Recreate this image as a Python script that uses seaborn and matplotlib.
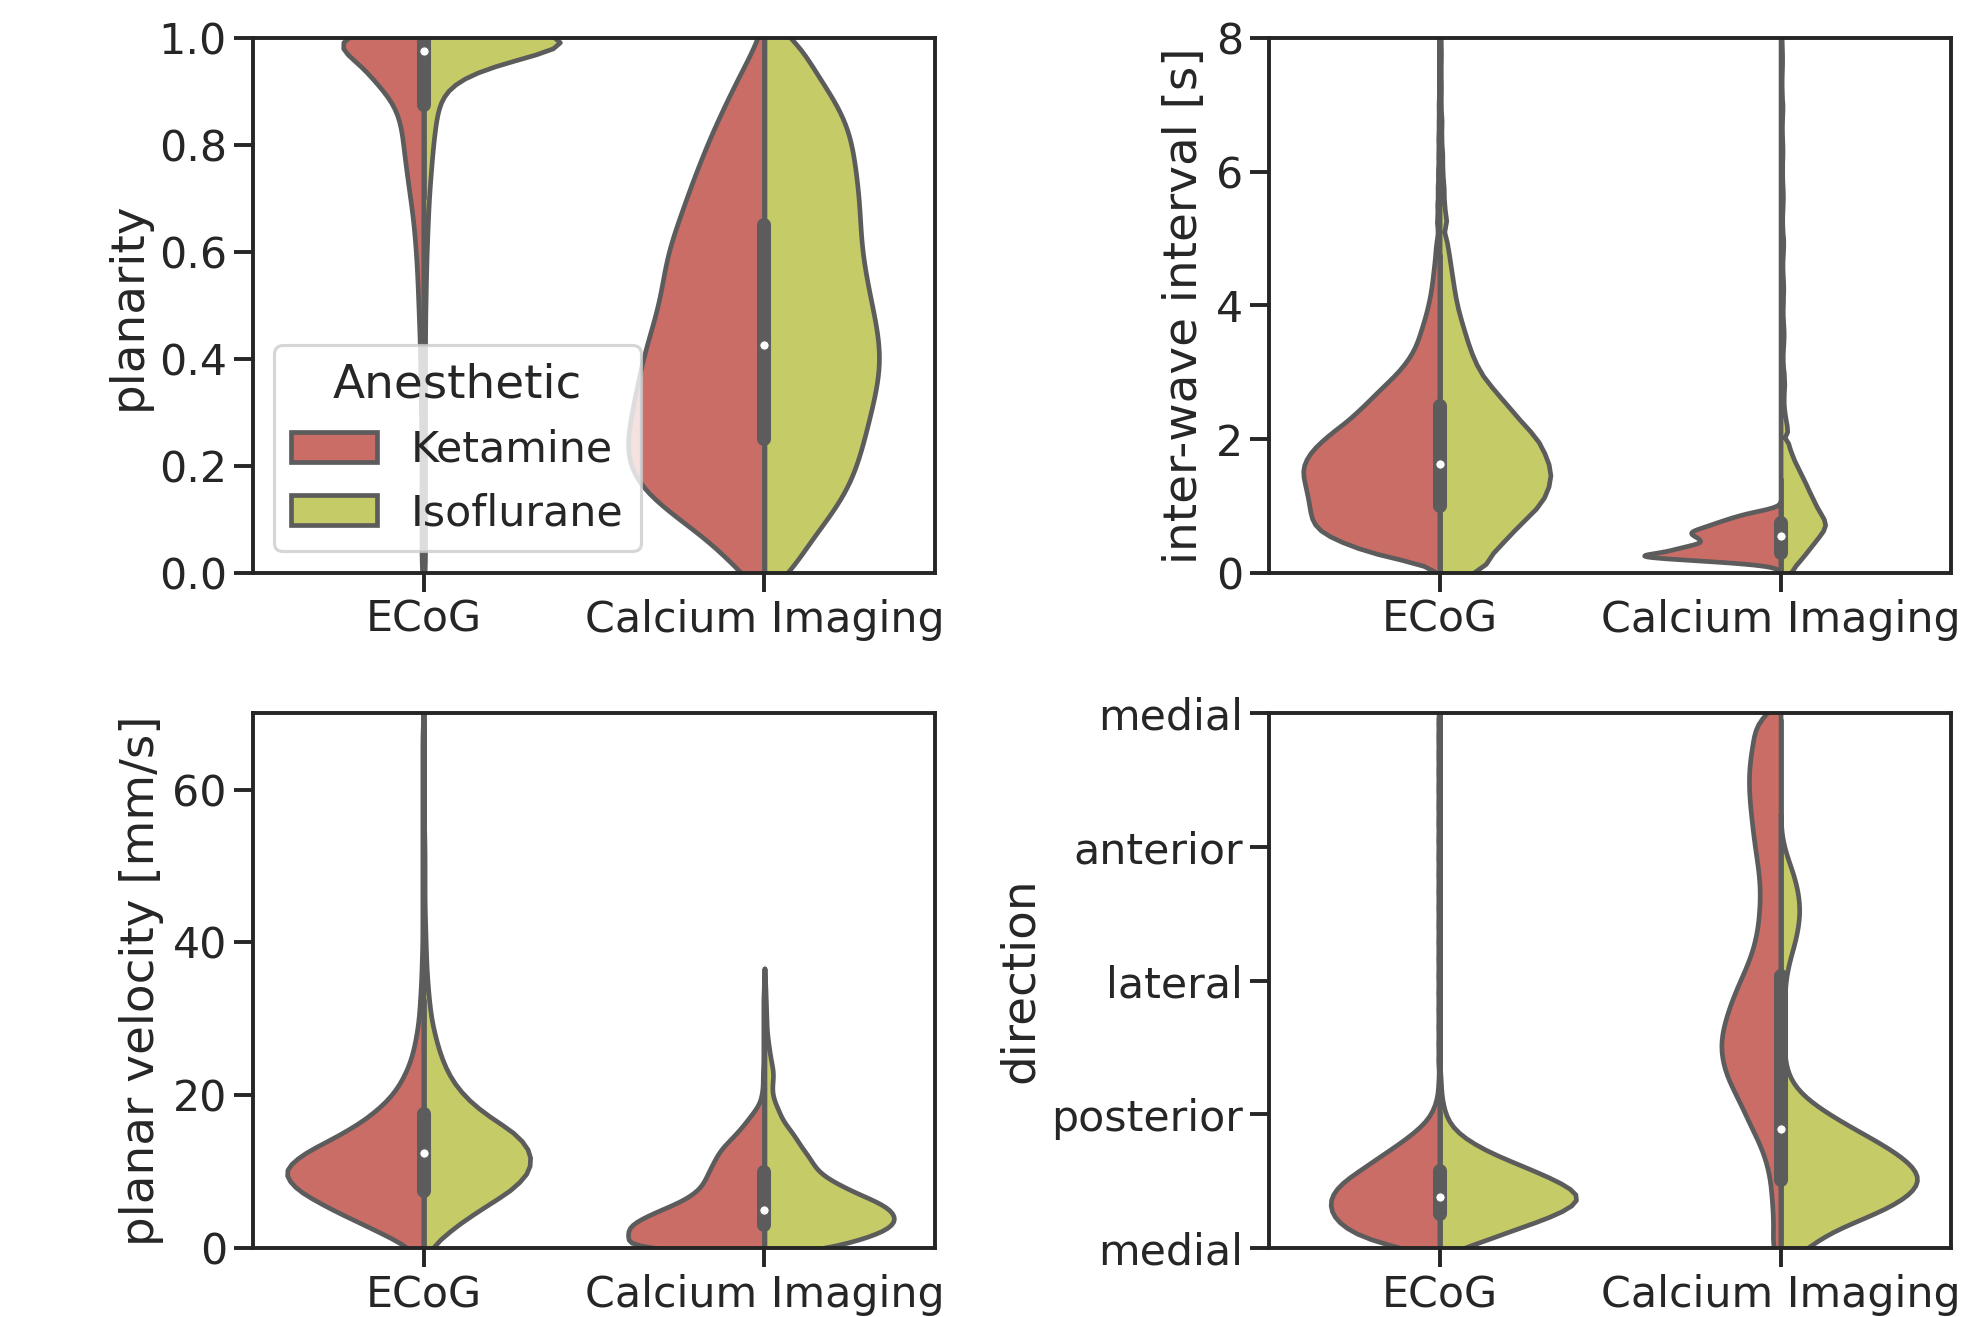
import numpy as np
import pandas as pd
import seaborn as sns
import matplotlib.pyplot as plt

sns.set_theme(style="ticks", context="talk")
plt.rcParams.update({
    "xtick.labelsize": 20.5,
    "ytick.labelsize": 20.5,
    "axes.labelsize": 22.5,
    "legend.fontsize": 20.5,
    "legend.title_fontsize": 22.5,
})

recordings = ["ECoG", "Calcium Imaging"]
anesthetics = ["Ketamine", "Isoflurane"]
palette = sns.color_palette("hls", 6)[:2]
gray = "#5c5c5c"

# binned data: *_grid = bin values, the count lists = number of waves per bin

# planarity
planarity_grid = [0.0, 0.025, 0.05, 0.075, 0.1, 0.125, 0.15, 0.175, 0.2, 0.225,
                  0.25, 0.275, 0.3, 0.325, 0.35, 0.375, 0.4, 0.425, 0.45, 0.475,
                  0.5, 0.525, 0.55, 0.575, 0.6, 0.625, 0.65, 0.675, 0.7, 0.725,
                  0.75, 0.775, 0.8, 0.825, 0.85, 0.875, 0.9, 0.925, 0.95, 0.975, 1.0]
planarity_ecog_ket = [4, 4, 4, 4, 4, 4, 4, 4, 4, 4,
                      4, 5, 5, 5, 6, 6, 7, 7, 8, 9,
                      10, 11, 12, 13, 15, 17, 19, 22, 26, 30,
                      33, 37, 40, 42, 46, 55, 72, 105, 130, 100, 342]
planarity_ecog_iso = [9, 9, 9, 9, 9, 9, 9, 9, 9, 9,
                      9, 9, 9, 9, 9, 9, 9, 9, 9, 9,
                      12, 12, 15, 15, 18, 21, 24, 27, 30, 36,
                      42, 48, 54, 63, 72, 84, 105, 150, 390, 450, 1850]
planarity_ca_ket = [83, 93, 132, 180, 233, 285, 327, 357, 372, 378,
                    375, 369, 362, 354, 347, 339, 332, 321, 311, 299,
                    288, 282, 276, 270, 264, 251, 239, 225, 213, 200,
                    186, 171, 158, 141, 125, 108, 90, 72, 54, 33, 15]
planarity_ca_iso = [60, 58, 74, 94, 112, 130, 145, 156, 165, 172,
                    178, 184, 190, 196, 201, 205, 207, 205, 202, 197,
                    192, 187, 182, 178, 174, 172, 171, 170, 169, 166,
                    163, 160, 157, 151, 143, 130, 115, 98, 82, 68, 70]

# inter-wave interval [s]
iwi_ecog_grid = [0, 0.125, 0.25, 0.375, 0.5, 0.625, 0.75, 0.875, 1.0, 1.125,
                 1.25, 1.375, 1.5, 1.625, 1.75, 1.875, 2.0, 2.125, 2.25, 2.375,
                 2.5, 2.625, 2.75, 2.875, 3.0, 3.125, 3.25, 3.375, 3.5, 3.625,
                 3.75, 3.875, 4.0, 4.125, 4.25, 4.375, 4.5, 4.625, 4.75, 4.875,
                 5.0, 5.25, 5.5, 5.75, 6.0, 6.25, 6.5, 6.75, 7.0, 7.25,
                 7.5, 7.75, 8.0, 8.25, 8.5]
iwi_ecog_ket = [0, 30, 190, 260, 330, 376, 396, 402, 406, 410,
                416, 422, 428, 424, 410, 390, 360, 330, 292, 264,
                236, 210, 184, 156, 130, 108, 90, 76, 66, 58,
                50, 42, 36, 30, 26, 22, 20, 16, 14, 12,
                10, 16, 14, 12, 10, 8, 8, 6, 6, 4,
                4, 4, 4, 4, 4]
iwi_ecog_iso_grid = iwi_ecog_grid + [9, 10, 11, 12, 14, 16]
iwi_ecog_iso = [81, 68, 80, 92, 105, 117, 130, 144, 158, 166,
                172, 175, 177, 173, 168, 162, 155, 143, 130, 119,
                108, 96, 85, 74, 64, 58, 52, 47, 43, 39,
                35, 31, 28, 25, 23, 21, 19, 17, 15, 13,
                12, 20, 16, 12, 10, 8, 6, 6, 4, 4,
                4, 4, 4, 2, 2, 120, 100, 80, 60, 60, 40]
iwi_ca_ket_grid = [0, 0.05, 0.1, 0.15, 0.2, 0.25, 0.3, 0.35, 0.4, 0.45,
                   0.5, 0.55, 0.6, 0.65, 0.7, 0.75, 0.8, 0.85, 0.9, 0.95, 1.0]
iwi_ca_ket = [0, 9, 45, 210, 480, 750, 570, 516, 450, 375,
              384, 414, 444, 405, 354, 309, 261, 210, 150, 66, 12]
iwi_ca_iso_grid = [0, 0.05, 0.1, 0.15, 0.2, 0.25, 0.3, 0.35, 0.4, 0.45,
                   0.5, 0.55, 0.6, 0.65, 0.7, 0.75, 0.8, 0.85, 0.9, 0.95,
                   1.0, 1.05, 1.1, 1.15, 1.2, 1.25, 1.3, 1.35, 1.4, 1.45,
                   1.5, 1.55, 1.6, 1.65, 1.7, 1.75, 1.8, 1.85, 1.9, 1.95,
                   2.0, 2.1, 2.2, 2.3, 2.4, 2.5, 2.6, 2.7, 2.8, 2.9,
                   3.0, 3.1, 3.2, 3.3, 3.4, 3.5, 3.6, 3.7, 3.8, 3.9,
                   4.0, 4.1, 4.2, 4.3, 4.4, 4.5, 4.6, 4.7, 4.8, 4.9,
                   5.0, 5.1, 5.2, 5.3, 5.4, 5.5, 5.6, 5.7, 5.8, 5.9,
                   6.0, 6.1, 6.2, 6.3, 6.4, 6.5, 6.6, 6.7, 6.8, 6.9,
                   7.0, 7.1, 7.2, 7.3, 7.4, 7.5, 7.6, 7.7, 7.8, 7.9,
                   8.0, 8.1, 8.2, 8.3, 8.4, 8.5]
iwi_ca_iso = [18, 19, 22, 26, 31, 35, 39, 43, 47, 51,
              55, 59, 63, 66, 68, 68, 66, 63, 60, 57,
              54, 52, 49, 47, 44, 42, 40, 37, 35, 32,
              30, 27, 25, 22, 20, 18, 16, 14, 13, 11,
              10, 18, 16, 14, 13, 12, 11, 10, 10, 9,
              9, 8, 8, 8, 8, 8, 8, 8, 8, 8,
              8, 7, 7, 7, 7, 7, 7, 7, 7, 7,
              7, 6, 6, 6, 6, 6, 6, 6, 6, 6,
              6, 5, 5, 5, 5, 5, 5, 5, 5, 5,
              5, 4, 4, 4, 4, 4, 4, 4, 4, 4,
              4, 4, 3, 3, 3, 2]

# planar velocity [mm/s]
vel_ecog_grid = [0, 2.5, 5, 7.5, 10, 12.5, 15, 17.5, 20, 22.5, 25, 27.5, 30, 32.5, 35,
                 37.5, 40, 42.5, 45, 47.5, 50, 52.5, 55, 57.5, 60, 62.5, 65, 67.5, 70]
vel_ecog_ket = [18, 88, 158, 220, 250, 208, 138, 88, 53, 33, 20, 13, 8, 6, 4,
                3, 2, 2, 2, 2, 2, 2, 2, 2, 2, 2, 2, 2, 0]
vel_ecog_iso_grid = vel_ecog_grid + [75, 80, 90, 100]
vel_ecog_iso = [11, 52, 102, 162, 197, 199, 172, 112, 72, 47, 32, 22, 14, 10, 7,
                5, 4, 3, 2, 2, 2, 2, 1, 1, 1, 1, 1, 1, 0, 50, 45, 40, 40]
vel_ca_grid = [0, 1, 2, 3, 4, 5, 6, 7, 8, 9, 10, 11, 12, 13, 14, 15, 16, 17, 18,
               19, 20, 21, 22, 23, 24, 25, 26, 27, 28, 29, 30, 31, 32, 33, 34, 35, 36]
vel_ca_ket = [270, 235, 246, 240, 215, 184, 150, 127, 112, 105, 99, 92, 85, 77, 63, 50, 38, 28, 17,
              8, 5, 3, 3, 3, 2, 2, 2, 2, 2, 2, 2, 2, 2, 2, 1, 1, 0]
vel_ca_iso = [130, 175, 222, 245, 250, 240, 217, 180, 150, 122, 102, 92, 84, 72, 63, 54, 42, 32, 27,
              20, 15, 14, 16, 17, 14, 11, 9, 7, 5, 4, 4, 3, 3, 2, 2, 1, 0]

# direction [rad]: 0 medial, pi/2 posterior, pi lateral, 3pi/2 anterior, 2pi medial
dir_ecog_grid = [0, 0.1, 0.2, 0.3, 0.4, 0.5, 0.6, 0.7, 0.8, 0.9, 1.0, 1.1, 1.2, 1.3, 1.4,
                 1.5, 1.6, 1.7, 1.8, 1.9, 2.0, 2.2, 2.4, 2.6, 2.8, 3.0, 3.2, 3.4, 3.6, 3.8,
                 4.0, 4.2, 4.4, 4.6, 4.8, 5.0, 5.2, 5.4, 5.6, 5.8, 6.0, 6.2]
dir_ecog_ket = [61, 108, 135, 152, 162, 165, 164, 155, 142, 122, 104, 85, 66, 48, 32,
                19, 11, 6, 3, 2, 2, 4, 4, 4, 4, 4, 4, 4, 4, 4,
                4, 4, 4, 4, 4, 4, 4, 4, 4, 4, 4, 4]
dir_ecog_iso = [35, 75, 108, 148, 182, 208, 218, 203, 178, 148, 116, 84, 58, 37, 22,
                13, 8, 5, 3, 2, 2, 1, 1, 1, 1, 1, 1, 1, 1, 1,
                1, 1, 1, 1, 1, 1, 1, 1, 1, 1, 1, 1]
dir_ca_grid = [0, 0.2, 0.4, 0.6, 0.8, 1.0, 1.2, 1.4, 1.6, 1.8, 2.0, 2.2, 2.4, 2.6, 2.8, 3.0,
               3.2, 3.4, 3.6, 3.8, 4.0, 4.2, 4.4, 4.6, 4.8, 5.0, 5.2, 5.4, 5.6, 5.8, 6.0, 6.2]
dir_ca_ket = [15, 11, 12, 14, 16, 22, 31, 45, 57, 70, 84, 92, 95, 90, 82, 72,
              60, 48, 40, 35, 33, 32, 34, 38, 42, 45, 48, 50, 50, 47, 42, 40]
dir_ca_iso = [63, 107, 218, 290, 324, 294, 237, 165, 99, 45, 18, 9, 8, 8, 8, 9,
              12, 21, 33, 41, 44, 39, 29, 14, 3, 0, 0, 0, 0, 0, 0, 0]


def fixed_bw(h):
    # kernel width in data units instead of scott's rule
    return lambda kde: h / kde.dataset.std(ddof=1)


def draw(ax, groups, bws, ylabel, ylim, legend=False):
    for i, (rec, halves) in enumerate(zip(recordings, groups)):
        df = pd.concat([
            pd.DataFrame({"recording": rec, "Anesthetic": name, "value": np.repeat(grid, counts)})
            for name, (grid, counts) in zip(anesthetics, halves)
        ], ignore_index=True)
        sns.violinplot(data=df, x="recording", y="value", hue="Anesthetic", split=True,
                       order=recordings, hue_order=anesthetics, palette=palette,
                       inner=None, linewidth=2.25, linecolor=gray,
                       bw_method=fixed_bw(bws[i]), common_norm=True,
                       legend=legend and i == 0, ax=ax)
        # box of both halves together
        vals = df["value"].to_numpy()
        q1, med, q3 = np.percentile(vals, [25, 50, 75])
        iqr = q3 - q1
        lo = vals[vals >= q1 - 1.5 * iqr].min()
        hi = vals[vals <= q3 + 1.5 * iqr].max()
        ax.plot([i, i], [lo, hi], lw=2.25, color=gray, zorder=2)
        ax.plot([i, i], [q1, q3], lw=6.75, color=gray, solid_capstyle="round", zorder=2)
        ax.scatter(i, med, s=20, color="white", edgecolor=gray, linewidth=0.5, zorder=3)
    ax.set_xlim(-0.5, 1.5)
    ax.set_ylim(*ylim)
    ax.set_xlabel("")
    ax.set_ylabel(ylabel)


fig, axes = plt.subplots(2, 2, figsize=(13.24, 8.78), dpi=150)
fig.subplots_adjust(left=0.1274, right=0.9824, top=0.9711, bottom=0.0524, wspace=0.49, hspace=0.263)

draw(axes[0, 0],
     [[(planarity_grid, planarity_ecog_ket), (planarity_grid, planarity_ecog_iso)],
      [(planarity_grid, planarity_ca_ket), (planarity_grid, planarity_ca_iso)]],
     [0.03, 0.035], "planarity", (0, 1), legend=True)
draw(axes[0, 1],
     [[(iwi_ecog_grid, iwi_ecog_ket), (iwi_ecog_iso_grid, iwi_ecog_iso)],
      [(iwi_ca_ket_grid, iwi_ca_ket), (iwi_ca_iso_grid, iwi_ca_iso)]],
     [0.1, 0.035], "inter-wave interval [s]", (0, 8))
draw(axes[1, 0],
     [[(vel_ecog_grid, vel_ecog_ket), (vel_ecog_iso_grid, vel_ecog_iso)],
      [(vel_ca_grid, vel_ca_ket), (vel_ca_grid, vel_ca_iso)]],
     [1.6, 0.8], "planar velocity [mm/s]", (0, 70))
draw(axes[1, 1],
     [[(dir_ecog_grid, dir_ecog_ket), (dir_ecog_grid, dir_ecog_iso)],
      [(dir_ca_grid, dir_ca_ket), (dir_ca_grid, dir_ca_iso)]],
     [0.08, 0.15], "direction", (0, 2 * np.pi))

axes[0, 0].set_yticks([0, 0.2, 0.4, 0.6, 0.8, 1.0])
axes[0, 1].set_yticks([0, 2, 4, 6, 8])
axes[1, 0].set_yticks([0, 20, 40, 60])
axes[1, 1].set_yticks([0, np.pi / 2, np.pi, 3 * np.pi / 2, 2 * np.pi])
axes[1, 1].set_yticklabels(["medial", "posterior", "lateral", "anterior", "medial"])

sns.move_legend(axes[0, 0], "lower left", borderaxespad=0.5)

fig.savefig("out.png", dpi=150)
